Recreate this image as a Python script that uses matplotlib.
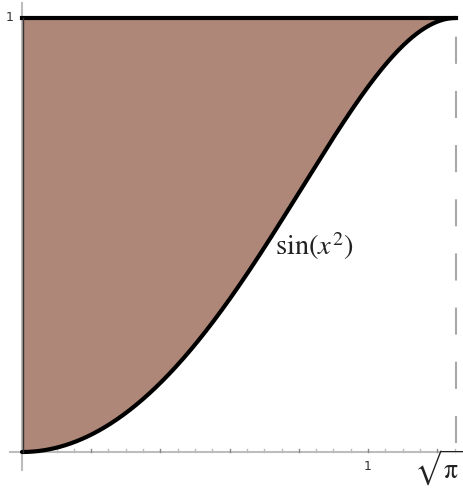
import numpy as np
import matplotlib
matplotlib.use("Agg")
import matplotlib.pyplot as plt

plt.rcParams['mathtext.fontset'] = 'stix'

# Data
x_end = np.sqrt(np.pi / 2)
xs = np.linspace(0, x_end, 400)
curve = np.sin(xs ** 2)
top_value = 1.0
x_ticks = [1.0, x_end]
x_tick_labels = ["1", r"$\sqrt{\mathrm{\pi}}$"]
y_ticks = [1.0]
y_tick_labels = ["1"]
curve_label = r"$\sin(x^2)$"

fill_color = "#AE8778"
axis_color = "#BDBDBD"

fig = plt.figure(figsize=(4.64, 4.90), dpi=100)
ax = fig.add_axes([0, 0, 1, 1])
ax.set_xlim(-22 / 346, (464 - 22) / 346)
ax.set_ylim(-38 / 434, 452 / 434)
ax.axis("off")

# axes lines
ax.plot([-12 / 346, 1.2775], [0, 0], color=axis_color, lw=1.5, zorder=1)
ax.plot([0, 0], [-18 / 434, 1.035], color=axis_color, lw=1.5, zorder=1)

# minor ticks on x axis
for t in np.arange(0.05, 1.26, 0.05):
    major = abs(round(t / 0.2) * 0.2 - t) < 1e-6
    ax.plot([t, t], [0, 3 / 434], color="#888888" if major else "#BBBBBB",
            lw=1.0, zorder=1)

# fill between curve and 1
ax.fill_between(xs, curve, top_value, color=fill_color, lw=0, zorder=2)
ax.plot(xs, curve, color="black", lw=3, zorder=3, solid_capstyle="round")
ax.plot([0, x_end], [top_value, top_value], color="black", lw=3, zorder=3)
ax.plot([0.003, 0.003], [0, 1], color="#333333", lw=1.0, zorder=3)

# dashed vertical line
ax.plot([x_end, x_end], [0.02, top_value], color="#A8A8A8", lw=1.5,
        dashes=(13, 13), zorder=1)

# tick labels
ax.text(1.0, -14 / 434, x_tick_labels[0], ha="center", va="center",
        fontsize=9, color="#333333", family="DejaVu Sans")
ax.text(x_end - 0.05, -36 / 434, x_tick_labels[1], ha="center",
        va="bottom", fontsize=20, color="#222222")
ax.text(-12 / 346, 1.0, y_tick_labels[0], ha="center", va="center",
        fontsize=9, color="#333333", family="DejaVu Sans")

# curve label
ax.text(0.73, 0.475, curve_label, ha="left", va="center", fontsize=20.5,
        color="#222222")

fig.savefig("out.png", dpi=100)
